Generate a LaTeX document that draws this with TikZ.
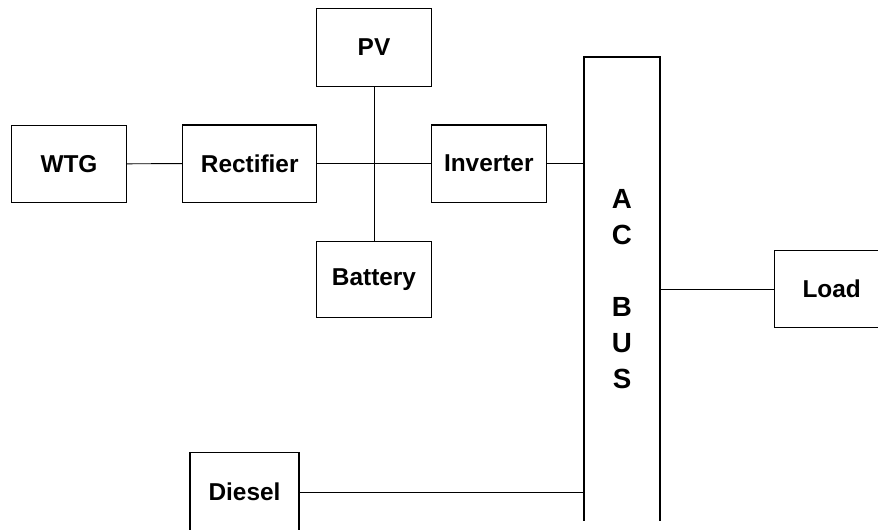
\documentclass[tikz,border=0pt]{standalone}
\usepackage{fontspec}
\setmainfont{Liberation Sans}
\usetikzlibrary{positioning,calc}
\tikzset{
	unit/.style={draw,line width=0.9pt,inner sep=0pt,outer sep=0pt,minimum width=86pt,minimum height=58pt,font=\fontsize{18.3}{22}\selectfont\bfseries},
	busbar/.style={inner sep=0pt,outer sep=0pt,minimum width=57pt,minimum height=348pt,align=center,font=\fontsize{20.8}{27}\selectfont\bfseries},
	wire/.style={line width=0.7pt}
}

\begin{document}
\begin{tikzpicture}[x=0.75pt,y=-0.75pt]
		\clip (0,0) rectangle (878,529);
		% sources and converters
		\node[unit] (pv) at (374,47.5) {PV};
		\node[unit] (wtg) at (69,163.8) {WTG};
		\node[unit,minimum width=100.5pt] (rect) at (249.7,163.6) {Rectifier};
		\node[unit] (inv) at (488.8,163.6) {Inverter};
		\node[unit,minimum height=57pt] (batt) at (374,279.7) {Battery};
		\node[unit,minimum width=81.75pt,minimum height=59pt] (diesel) at (244.5,492) {Diesel};
		\node[unit] (load) at (831.7,289) {Load};
		% ac bus, open at the bottom
		\node[busbar] (bus) at (622,288.9) {A\\C\\[27pt]B\\U\\S};
		\draw[line width=0.9pt] (bus.south west) -- (bus.north west) -- (bus.north east) -- (bus.south east);
		% connections
		\draw[wire] (wtg.east) -- (rect.west);
		\draw[wire] (rect.east) -- (inv.west);
		\draw[wire] (pv.south) -- (batt.north);
		\draw[wire] (inv.east) -- (inv.east -| bus.west);
		\draw[wire] (load.west -| bus.east) -- (load.west);
		\draw[wire] (diesel.east) -- (diesel.east -| bus.west);
\end{tikzpicture}
\end{document}
